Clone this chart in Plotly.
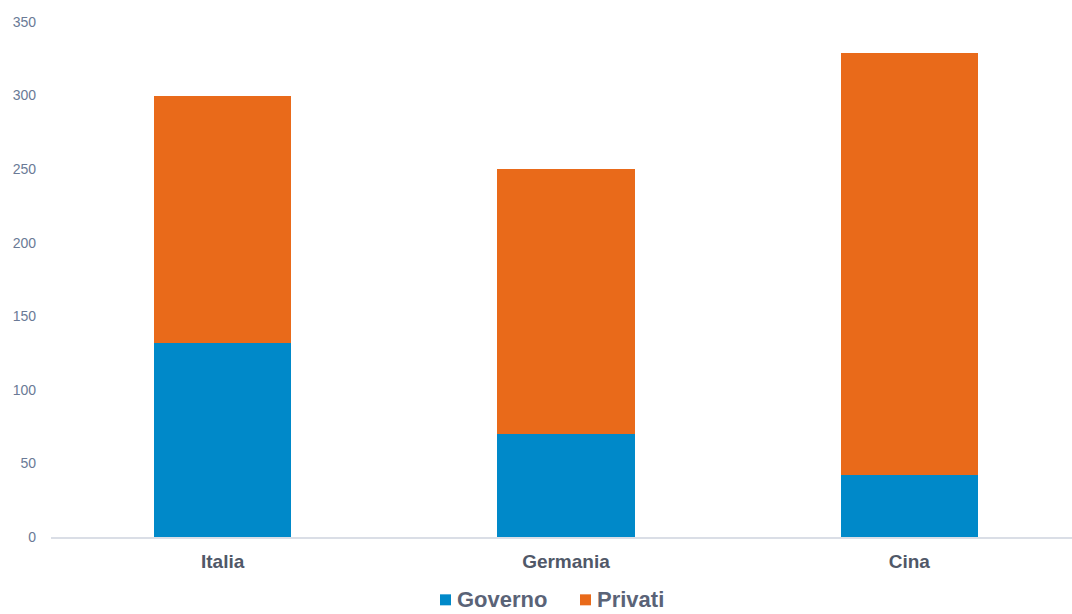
import plotly.graph_objects as go

# Spending breakdown by country (stacked: government + private)
countries = ["Italia", "Germania", "Cina"]
governo = [132, 70, 42]
privati = [168, 180, 287]
y_ticks = [0, 50, 100, 150, 200, 250, 300, 350]

BLUE = "#0089c9"
ORANGE = "#e96a1a"
FONT = "Liberation Sans, Arial, sans-serif"

fig = go.Figure()
fig.add_trace(go.Bar(name="Governo", x=countries, y=governo,
                     marker=dict(color=BLUE, line=dict(width=0)), width=0.4))
fig.add_trace(go.Bar(name="Privati", x=countries, y=privati,
                     marker=dict(color=ORANGE, line=dict(width=0)), width=0.4))

fig.update_layout(
    barmode="stack",
    width=1072, height=614,
    margin=dict(l=51, r=0, t=22, b=77),
    paper_bgcolor="white",
    plot_bgcolor="white",
    showlegend=False,
    font=dict(family=FONT),
)

fig.update_xaxes(
    range=[-0.5, 2.474],
    showgrid=False,
    showline=True, linecolor="#dadee6", linewidth=2,
    ticks="",
    tickfont=dict(size=19, color="#505868", family=FONT, weight="bold"),
    ticklabelstandoff=6,
)
fig.update_yaxes(
    range=[0, 350],
    tickvals=y_ticks,
    showgrid=False, zeroline=False, showline=False,
    ticks="",
    tickfont=dict(size=14, color="#6a7a96", family=FONT),
    ticklabelstandoff=14,
)

# Legend drawn below the axis: coloured squares followed by bold labels
legend_items = [("Governo", BLUE, 440), ("Privati", ORANGE, 580)]
y_leg = -0.122
for label, color, px in legend_items:
    x0 = (px - 51) / 1021
    x1 = (px + 11 - 51) / 1021
    fig.add_shape(type="rect", xref="paper", yref="paper",
                  x0=x0, x1=x1, y0=y_leg - 11 / 515 / 2, y1=y_leg + 11 / 515 / 2,
                  fillcolor=color, line=dict(width=0))
    fig.add_annotation(xref="paper", yref="paper",
                       x=(px + 15 - 51) / 1021, y=y_leg,
                       xanchor="left", yanchor="middle", showarrow=False,
                       text="<b>" + label + "</b>",
                       font=dict(size=22, color="#5a6377", family=FONT))

fig.write_html("out.html")
